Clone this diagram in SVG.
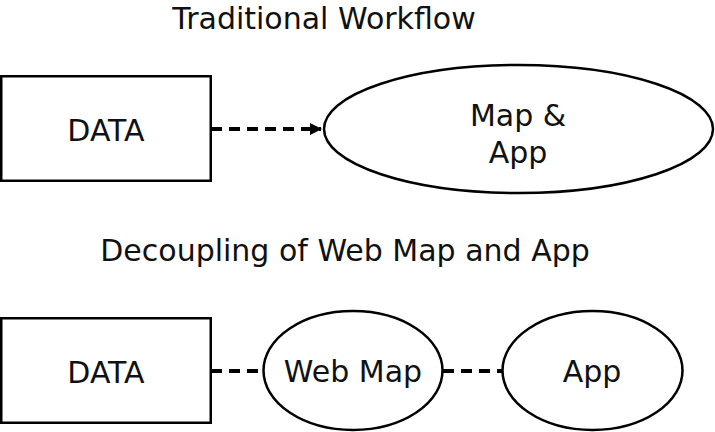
<svg xmlns="http://www.w3.org/2000/svg" width="715" height="432" viewBox="0 0 715 432">
<style>
text{font-family:"DejaVu Sans","Verdana",sans-serif;font-size:30px;fill:#111;text-anchor:middle}
.shape{fill:#fff;stroke:#000;stroke-width:2.5}
.conn{fill:none;stroke:#000;stroke-width:4;stroke-dasharray:11,7}
</style>
<defs>
<marker id="arr" markerWidth="14" markerHeight="14" refX="11" refY="6" orient="auto" markerUnits="userSpaceOnUse">
<path d="M0,0 L12,6 L0,12 Z" fill="#000"/>
</marker>
</defs>
<rect width="715" height="432" fill="#fff"/>
<text id="title1" x="324" y="29">Traditional Workflow</text>
<text id="title2" x="345" y="261">Decoupling of Web Map and App</text>
<g id="connectors">
<line class="conn" x1="211" y1="129" x2="321" y2="129" marker-end="url(#arr)"/>
<line class="conn" x1="211" y1="371" x2="264" y2="371"/>
<line class="conn" x1="443" y1="371" x2="502" y2="371"/>
</g>
<g id="data1">
<rect class="shape" x="1.25" y="76.25" width="209.5" height="104.5"/>
<text x="106" y="141">DATA</text>
</g>
<g id="mapapp">
<ellipse class="shape" cx="518.5" cy="129" rx="194.5" ry="64"/>
<text x="518" y="126">Map &amp;</text>
<text x="518" y="163">App</text>
</g>
<g id="data2">
<rect class="shape" x="1.25" y="318.25" width="209.5" height="104.5"/>
<text x="106" y="383">DATA</text>
</g>
<g id="webmap">
<ellipse class="shape" cx="353" cy="370.5" rx="89.5" ry="59.5"/>
<text x="353" y="382">Web Map</text>
</g>
<g id="app">
<ellipse class="shape" cx="592.5" cy="370.5" rx="90" ry="59.5"/>
<text x="592" y="382">App</text>
</g>
</svg>
